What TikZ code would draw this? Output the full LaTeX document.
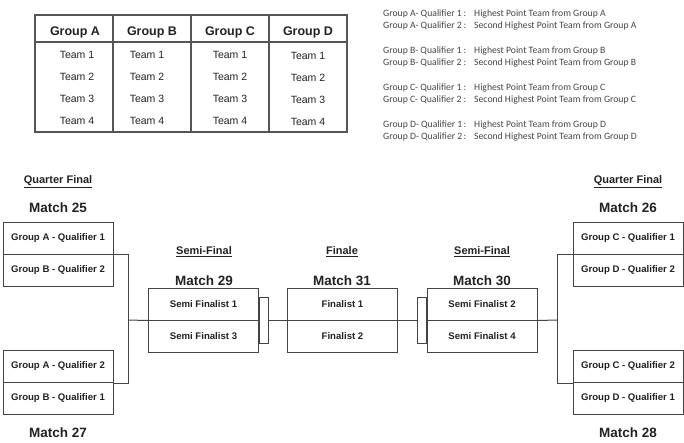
\documentclass[tikz,border=0pt]{standalone}
\usepackage{fontspec}
\setmainfont{Liberation Sans}
\newfontfamily\legfont{Carlito}
\definecolor{linegray}{HTML}{444444}
\definecolor{tblgray}{HTML}{555555}
\definecolor{txtdark}{HTML}{222222}
\definecolor{legtxt}{HTML}{444444}
\begin{document}
\begin{tikzpicture}[x=1pt,y=-1pt,
  half/.style={draw=linegray, line width=1pt, minimum width=110pt, minimum height=32pt, inner sep=0pt, font=\fontsize{9.6}{11}\selectfont\bfseries, text=txtdark},
  conn/.style={draw=linegray, line width=1pt},
  tabbox/.style={draw=linegray, line width=1pt, minimum width=9pt, minimum height=46pt, inner sep=0pt},
  matchlbl/.style={font=\fontsize{13.5}{15}\selectfont\bfseries, text=txtdark, inner sep=0pt},
  stagelbl/.style={font=\fontsize{11}{13}\selectfont\bfseries, text=txtdark, inner sep=0pt},
  ghead/.style={font=\fontsize{12.5}{14}\selectfont\bfseries, text=txtdark, inner sep=0pt},
  team/.style={font=\fontsize{10.5}{12}\selectfont, text=txtdark, inner sep=0pt},
  leg/.style={font=\legfont\fontsize{9.7}{11}\selectfont, text=legtxt, inner sep=0pt, anchor=base west},
  legc/.style={font=\legfont\fontsize{9.7}{11}\selectfont, text=legtxt, inner sep=0pt, anchor=base},
  tbl/.style={draw=tblgray, line width=1.8pt},
  tblthin/.style={draw=tblgray, line width=1.2pt}]
\useasboundingbox (0,0) rectangle (684,442);

% ---------- group table ----------
\draw[tbl] (35,15) rectangle (347,132);
\draw[tbl] (113,15) -- (113,132);
\draw[tbl] (191,15) -- (191,132);
\draw[tbl] (269,15) -- (269,132);
\draw[tblthin] (35,42) -- (347,42);
\node[ghead] (hA) at (75,32) {Group A};
\node[ghead] (hB) at (152,32) {Group B};
\node[ghead] (hC) at (230,32) {Group C};
\node[ghead] (hD) at (308,32) {Group D};
\foreach \i/\y in {1/55,2/77,3/99,4/121}{
  \node[team] (tA\i) at (77,\y) {Team \i};
  \node[team] (tB\i) at (147,\y) {Team \i};
  \node[team] (tC\i) at (230,\y) {Team \i};
  \node[team] (tD\i) at (308,\y+1) {Team \i};
}

% ---------- legend ----------
\foreach \g/\ya/\yb in {A/16.7/28.7, B/53.3/65.3, C/90/102.3, D/127.3/139.3}{
  \node[leg] (l\g a) at (383,\ya) {Group \g- Qualifier 1};
  \node[legc] (c\g a) at (465,\ya) {:};
  \node[leg] (r\g a) at (474,\ya) {Highest Point Team from Group \g};
  \node[leg] (l\g b) at (383,\yb) {Group \g- Qualifier 2};
  \node[legc] (c\g b) at (465,\yb) {:};
  \node[leg] (r\g b) at (474,\yb) {Second Highest Point Team from Group \g};
}

% ---------- labels ----------
\node[stagelbl] (qfL) at (58,182) {\underline{Quarter Final}};
\node[stagelbl] (qfR) at (628,182) {\underline{Quarter Final}};
\node[stagelbl] (sfL) at (204,252) {\underline{Semi-Final}};
\node[stagelbl] (fin) at (342,252) {\underline{Finale}};
\node[stagelbl] (sfR) at (482,252) {\underline{Semi-Final}};
\node[matchlbl] (m25) at (58,207.5) {Match 25};
\node[matchlbl] (m26) at (628,207.5) {Match 26};
\node[matchlbl] (m27) at (58,432.5) {Match 27};
\node[matchlbl] (m28) at (628,432.5) {Match 28};
\node[matchlbl] (m29) at (204,280.5) {Match 29};
\node[matchlbl] (m31) at (342,280.5) {Match 31};
\node[matchlbl] (m30) at (482,280.5) {Match 30};

% ---------- match boxes ----------
\node[half] (q25a) at (58,238) {Group A - Qualifier 1};
\node[half] (q25b) at (58,270) {Group B - Qualifier 2};
\node[half] (q27a) at (58,366.5) {Group A - Qualifier 2};
\node[half] (q27b) at (58,398.5) {Group B - Qualifier 1};
\node[half] (q26a) at (628,238) {Group C - Qualifier 1};
\node[half] (q26b) at (628,270) {Group D - Qualifier 2};
\node[half] (q28a) at (628,366.5) {Group C - Qualifier 2};
\node[half] (q28b) at (628,398.5) {Group D - Qualifier 1};
\node[half] (s29a) at (203.5,304) {Semi Finalist 1};
\node[half] (s29b) at (203.5,336) {Semi Finalist 3};
\node[half] (f31a) at (342.5,304) {Finalist 1};
\node[half] (f31b) at (342.5,336) {Finalist 2};
\node[half] (s30a) at (482,304) {Semi Finalist 2};
\node[half] (s30b) at (482,336) {Semi Finalist 4};

\node[tabbox, anchor=west] (tab29) at (s29a.south east) {};
\node[tabbox, anchor=east] (tab30) at (s30a.south west) {};

% ---------- connectors ----------
\coordinate (lj) at (128,320);
\coordinate (rj) at (557,320);
\draw[conn] (q25a.south east) -| (lj);
\draw[conn] (q27a.south east) -| (lj);
\draw[conn] (lj) -- (s29a.south west);
\draw[conn] (tab29.east) -- (f31a.south west);
\draw[conn] (f31a.south east) -- (tab30.west);
\draw[conn] (s30a.south east) -- (rj);
\draw[conn] (q26a.south west) -| (rj);
\draw[conn] (q28a.south west) -| (rj);
\end{tikzpicture}
\end{document}
